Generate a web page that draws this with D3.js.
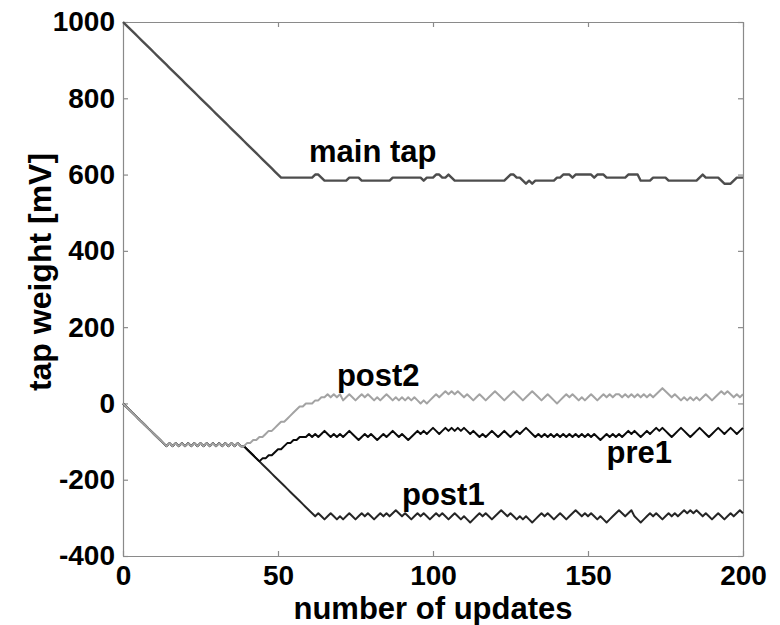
<!DOCTYPE html>
<html>
<head>
<meta charset="utf-8">
<script src="https://cdn.jsdelivr.net/npm/d3@7"></script>
<style>
  html, body { margin: 0; padding: 0; background: #ffffff; }
  svg { display: block; }
  text { font-family: "Liberation Sans", Arial, Helvetica, sans-serif; font-weight: bold; fill: #000; }
</style>
</head>
<body>
<svg id="chart" width="780" height="625"></svg>
<script>
// ---- data (tap weight in mV per update, n = 0..200) ----
const xTicks = [0, 50, 100, 150, 200];
const yTicks = [-400, -200, 0, 200, 400, 600, 800, 1000];

const mainTap = [
  1000,992,984,976,968,960,952,944,936,928,
  920,912,904,896,888,880,872,864,856,848,
  840,832,824,816,808,800,792,784,776,768,
  760,752,744,736,728,720,712,704,696,688,
  680,672,664,656,648,640,632,624,616,608,
  600,592,592,592,592,592,592,592,592,592,
  592,592,600,600,592,584,584,584,584,584,
  584,584,584,592,592,592,592,584,584,584,
  584,584,584,584,584,584,584,592,592,592,
  592,592,592,592,592,592,592,584,592,592,
  592,600,600,592,592,600,592,584,584,584,
  584,584,584,584,584,584,584,584,584,584,
  584,584,584,584,592,600,600,592,592,584,
  576,584,576,584,584,584,584,584,584,584,
  592,592,600,600,600,592,600,600,600,600,
  600,600,592,600,600,600,592,592,592,592,
  592,592,592,600,600,600,600,584,584,584,
  584,592,592,592,592,592,584,584,584,584,
  584,584,584,584,584,584,592,600,592,592,
  592,592,592,584,576,576,576,584,592,592,
  592
];

const post2 = [
  0,-8,-16,-24,-32,-40,-48,-56,-64,-72,
  -80,-88,-96,-104,-112,-104,-112,-104,-112,-104,
  -112,-104,-112,-104,-112,-104,-112,-104,-112,-104,
  -112,-104,-112,-104,-112,-104,-112,-104,-112,-112,
  -104,-104,-96,-96,-88,-88,-80,-72,-72,-64,
  -56,-48,-48,-40,-32,-24,-16,-8,-8,0,
  0,0,8,8,16,16,24,16,24,16,
  24,8,16,24,16,8,16,24,16,24,
  16,8,16,8,16,24,16,8,16,8,
  16,8,16,8,16,8,0,8,0,8,
  16,24,16,24,32,24,32,24,32,24,
  16,24,16,8,16,24,16,8,16,24,
  32,24,16,8,16,24,32,24,16,8,
  16,24,32,24,16,8,16,24,16,8,
  0,8,16,24,16,24,16,8,16,8,
  16,24,16,8,16,24,16,24,16,24,
  24,16,24,16,24,16,24,16,24,16,
  24,16,24,32,40,32,24,16,24,16,
  8,16,8,16,8,16,8,16,24,16,
  8,16,24,32,24,32,24,16,24,16,
  24
];

const pre1 = [
  0,-8,-16,-24,-32,-40,-48,-56,-64,-72,
  -80,-88,-96,-104,-112,-104,-112,-104,-112,-104,
  -112,-104,-112,-104,-112,-104,-112,-104,-112,-104,
  -112,-104,-112,-104,-112,-104,-112,-104,-112,-112,
  -120,-128,-136,-144,-152,-144,-144,-136,-136,-128,
  -120,-120,-112,-104,-104,-96,-96,-88,-88,-88,
  -80,-88,-80,-88,-80,-72,-80,-88,-80,-88,
  -80,-88,-80,-72,-80,-88,-96,-88,-80,-88,
  -80,-88,-96,-88,-80,-88,-80,-72,-80,-88,
  -80,-88,-96,-88,-80,-72,-80,-72,-80,-72,
  -64,-72,-80,-72,-64,-72,-64,-72,-64,-72,
  -64,-72,-80,-72,-80,-88,-80,-88,-80,-72,
  -80,-88,-80,-72,-80,-88,-80,-72,-80,-72,
  -64,-72,-80,-88,-80,-88,-80,-88,-80,-88,
  -80,-88,-80,-88,-80,-88,-80,-88,-80,-88,
  -80,-88,-80,-88,-96,-88,-80,-88,-80,-88,
  -80,-88,-80,-72,-80,-72,-80,-88,-80,-72,
  -80,-72,-64,-72,-64,-72,-80,-88,-80,-72,
  -64,-72,-80,-88,-80,-72,-64,-72,-80,-88,
  -80,-72,-64,-72,-80,-72,-64,-72,-80,-72,
  -64
];

const post1 = [
  0,-8,-16,-24,-32,-40,-48,-56,-64,-72,
  -80,-88,-96,-104,-112,-104,-112,-104,-112,-104,
  -112,-104,-112,-104,-112,-104,-112,-104,-112,-104,
  -112,-104,-112,-104,-112,-104,-112,-104,-112,-112,
  -120,-128,-136,-144,-152,-160,-168,-176,-184,-192,
  -200,-208,-216,-224,-232,-240,-248,-256,-264,-272,
  -280,-288,-296,-288,-296,-304,-296,-288,-296,-304,
  -296,-304,-296,-288,-296,-304,-296,-288,-296,-288,
  -296,-304,-296,-288,-296,-288,-296,-288,-280,-288,
  -296,-288,-296,-304,-296,-288,-296,-288,-296,-304,
  -296,-288,-296,-288,-296,-304,-296,-288,-296,-304,
  -296,-304,-312,-304,-296,-288,-296,-288,-296,-304,
  -296,-288,-280,-288,-296,-288,-296,-304,-296,-304,
  -296,-304,-312,-304,-296,-288,-296,-288,-296,-304,
  -296,-288,-296,-304,-296,-288,-280,-288,-296,-288,
  -296,-288,-296,-304,-296,-304,-312,-304,-296,-288,
  -280,-288,-296,-288,-280,-296,-304,-312,-304,-296,
  -288,-296,-288,-296,-304,-296,-288,-296,-288,-296,
  -288,-280,-288,-280,-288,-280,-288,-296,-288,-296,
  -304,-296,-288,-296,-304,-296,-288,-296,-288,-280,
  -288
];

// labels placed in data coordinates: text, update, mV
const seriesLabels = ["main tap", "post2", "pre1", "post1"];
const labelX = [60, 69, 156, 90];
const labelY = [634, 47, -157, -267];

const xLabel = "number of updates";
const yLabel = "tap weight [mV]";

// ---- drawing ----
const svg = d3.select("#chart");
const L = 123, R = 743, T = 22, B = 556;
const x = d3.scaleLinear().domain([0, 200]).range([L, R]);
const y = d3.scaleLinear().domain([-400, 1000]).range([B, T]);

svg.append("rect").attr("width", 780).attr("height", 625).attr("fill", "#fff");

const axisColor = "#8a8a8a";
const plainFmt = d => String(d);   // ASCII hyphen for negatives, as in the reference
function styleAxis(g) {
  g.selectAll(".domain").attr("stroke", axisColor).attr("stroke-width", 1.2);
  g.selectAll(".tick line").attr("stroke", axisColor).attr("stroke-width", 1.2);
  g.selectAll(".tick text")
    .attr("fill", "#000")
    .style("font-family", '"Liberation Sans", Arial, sans-serif')
    .style("font-weight", "bold")
    .style("font-size", "28px");
}

svg.append("g").attr("transform", `translate(0,${B})`)
  .call(d3.axisBottom(x).tickValues(xTicks).tickSize(-5).tickSizeOuter(0).tickPadding(9).tickFormat(plainFmt))
  .call(styleAxis);
svg.append("g").attr("transform", `translate(0,${T})`)
  .call(d3.axisTop(x).tickValues(xTicks).tickSize(-5).tickSizeOuter(0).tickFormat(""))
  .call(styleAxis);
svg.append("g").attr("transform", `translate(${L},0)`)
  .call(d3.axisLeft(y).tickValues(yTicks).tickSize(-5).tickSizeOuter(0).tickPadding(8).tickFormat(plainFmt))
  .call(styleAxis);
svg.append("g").attr("transform", `translate(${R},0)`)
  .call(d3.axisRight(y).tickValues(yTicks).tickSize(-5).tickSizeOuter(0).tickFormat(""))
  .call(styleAxis);

const line = d3.line().x((d, i) => x(i)).y(d => y(d));

const series = [
  { data: mainTap, color: "#4d4d4d", w: 2.4 },
  { data: post1, color: "#262626", w: 2.0 },
  { data: pre1, color: "#0a0a0a", w: 2.0 },
  { data: post2, color: "#a3a3a3", w: 2.0 }
];
svg.append("g").selectAll("path").data(series).join("path")
  .attr("d", d => line(d.data))
  .attr("fill", "none")
  .attr("stroke", d => d.color)
  .attr("stroke-width", d => d.w)
  .attr("stroke-linejoin", "round");

svg.append("g").selectAll("text").data(seriesLabels).join("text")
  .attr("x", (d, i) => x(labelX[i]))
  .attr("y", (d, i) => y(labelY[i]))
  .style("font-size", "31px")
  .text(d => d);

svg.append("text")
  .attr("x", (L + R) / 2).attr("y", 619)
  .attr("text-anchor", "middle")
  .style("font-size", "31px")
  .text(xLabel);

svg.append("text")
  .attr("transform", "translate(51,272) rotate(-90)")
  .attr("text-anchor", "middle")
  .style("font-size", "32px")
  .text(yLabel);
</script>
</body>
</html>
